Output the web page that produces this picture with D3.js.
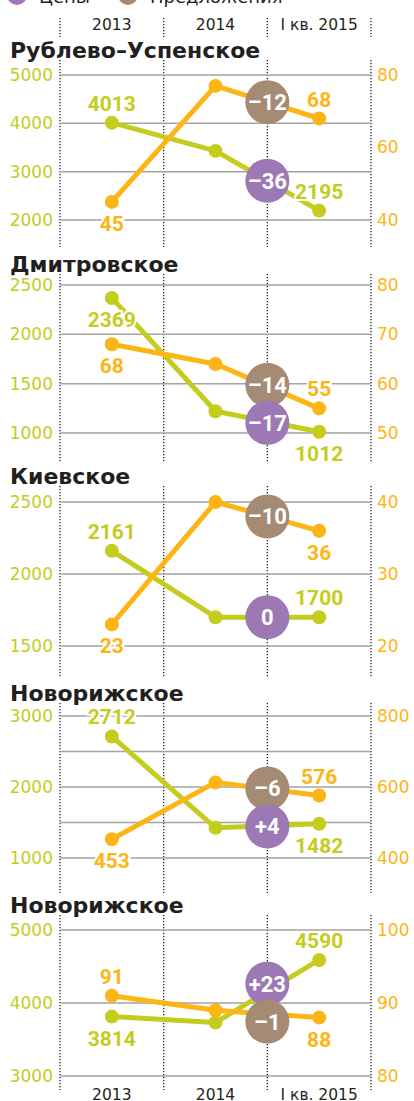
<!DOCTYPE html>
<html>
<head>
<meta charset="utf-8">
<script src="https://cdn.jsdelivr.net/npm/d3@7"></script>
<style>
  body { margin: 0; background: #fff; }
  svg { display: block; }
</style>
</head>
<body>
<div id="chart"></div>
<script>
// data
const periods = ["2013", "2014", "I кв. 2015"];
const regions = ["Рублево–Успенское", "Дмитровское", "Киевское", "Новорижское", "Новорижское"];
const prices = [[4013, 3430, 2195], [2369, 1220, 1012], [2161, 1700, 1700], [2712, 1425, 1482], [3814, 3732, 4590]];
const offers = [[45, 77, 68], [68, 64, 55], [23, 40, 36], [453, 613, 576], [91, 89, 88]];
const priceChange = ["–36", "–17", "0", "+4", "+23"];
const offerChange = ["–12", "–14", "–10", "–6", "–1"];
const priceTicks = [[2000, 3000, 4000, 5000], [1000, 1500, 2000, 2500], [1500, 2000, 2500], [1000, 2000, 3000], [3000, 4000, 5000]];
const priceGrid = [[2000, 3000, 4000, 5000], [1000, 1500, 2000, 2500], [1500, 2000, 2500], [1000, 1500, 2000, 2500, 3000], [3000, 4000, 5000]];
const offerTicks = [[40, 60, 80], [50, 60, 70, 80], [20, 30, 40], [400, 600, 800], [80, 90, 100]];
const legendNames = ["Цены", "Предложения"];

const width = 414, height = 1101;
const green = "#c4cc1e", orange = "#fdb515", purple = "#9c78b4", brown = "#a58a74";
const dark = "#231f20";

// layout of each small chart (pixels)
const layout = [
  { title: 58,  top: 75,  bottom: 220,  dotTop: 60,  dotBottom: 247 },
  { title: 272, top: 285, bottom: 433,  dotTop: 274, dotBottom: 463 },
  { title: 484, top: 502, bottom: 646,  dotTop: 486, dotBottom: 677 },
  { title: 701, top: 716, bottom: 858,  dotTop: 703, dotBottom: 893 },
  { title: 913, top: 930, bottom: 1076, dotTop: 915, dotBottom: 1090 }
];
// where the value labels go: [2013, 2015], -1 above the point, 1 below
const priceSide = [[-1, -1], [1, 1], [-1, -1], [-1, 1], [1, -1]];
const offerSide = [[1, -1], [1, -1], [1, 1], [1, -1], [-1, 1]];

let svg = d3.select("#chart")
    .append("svg")
    .attr("width", width)
    .attr("height", height);

let x = d3.scaleBand()
    .domain(periods)
    .range([60, 371]);
let cx = function(j) { return x(periods[j]) + x.bandwidth() / 2; };
let borders = periods.map(function(p) { return x(p); }).concat([x.range()[1]]);

function dotted(y1, y2) {
    svg.append("g")
        .selectAll("line")
        .data(borders)
        .enter()
        .append("line")
        .attr("x1", function(d) { return d; })
        .attr("x2", function(d) { return d; })
        .attr("y1", y1)
        .attr("y2", y2)
        .attr("stroke", dark)
        .attr("stroke-width", 1.3)
        .attr("stroke-dasharray", "1.3,1.7");
}

// legend (mostly cut off at the top)
let legendX = [17, 128];
legendNames.forEach(function(name, k) {
    svg.append("circle")
        .attr("cx", legendX[k])
        .attr("cy", -5)
        .attr("r", 10)
        .attr("fill", k == 0 ? purple : brown);
    svg.append("text")
        .attr("x", legendX[k] + 22)
        .attr("y", 3)
        .style("font-family", "DejaVu Sans")
        .style("font-size", "18px")
        .attr("fill", dark)
        .text(name);
});

// period labels top and bottom
[30, 1100].forEach(function(yy) {
    svg.append("g")
        .selectAll("text")
        .data(periods)
        .enter()
        .append("text")
        .attr("x", function(d, j) { return cx(j); })
        .attr("y", yy)
        .style("text-anchor", "middle")
        .style("font-family", "DejaVu Sans")
        .style("font-size", "15.5px")
        .attr("fill", dark)
        .text(function(d) { return d; });
});
dotted(18, 37);

layout.forEach(function(p, i) {
    let yL = d3.scaleLinear()
        .domain(d3.extent(priceTicks[i]))
        .range([p.bottom, p.top]);
    let yR = d3.scaleLinear()
        .domain(d3.extent(offerTicks[i]))
        .range([p.bottom, p.top]);

    svg.append("text")
        .attr("x", 10)
        .attr("y", p.title)
        .style("font-family", "DejaVu Sans")
        .style("font-weight", "bold")
        .style("font-size", "22px")
        .attr("fill", dark)
        .text(regions[i]);

    dotted(p.dotTop, p.dotBottom);

    svg.append("g")
        .selectAll("line")
        .data(priceGrid[i])
        .enter()
        .append("line")
        .attr("x1", x.range()[0])
        .attr("x2", x.range()[1])
        .attr("y1", function(d) { return yL(d); })
        .attr("y2", function(d) { return yL(d); })
        .attr("stroke", "#a3a3a3")
        .attr("stroke-width", 1.5);

    let left = svg.append("g")
        .attr("transform", "translate(" + x.range()[0] + ",0)")
        .call(d3.axisLeft(yL).tickValues(priceTicks[i]).tickSize(0).tickPadding(7).tickFormat(d3.format("d")));
    let right = svg.append("g")
        .attr("transform", "translate(" + x.range()[1] + ",0)")
        .call(d3.axisRight(yR).tickValues(offerTicks[i]).tickSize(0).tickPadding(6).tickFormat(d3.format("d")));
    [[left, green], [right, orange]].forEach(function(a) {
        a[0].select(".domain").remove();
        a[0].selectAll("text")
            .style("font-family", "DejaVu Sans")
            .style("font-size", "17px")
            .attr("fill", a[1]);
    });

    let series = [
        { values: prices[i], y: yL, color: green, side: priceSide[i], change: priceChange[i], badge: purple },
        { values: offers[i], y: yR, color: orange, side: offerSide[i], change: offerChange[i], badge: brown }
    ];

    series.forEach(function(s) {
        svg.append("path")
            .datum(s.values)
            .attr("fill", "none")
            .attr("stroke", s.color)
            .attr("stroke-width", 5)
            .attr("stroke-linejoin", "round")
            .attr("d", d3.line()
                .x(function(d, j) { return cx(j); })
                .y(function(d) { return s.y(d); }));
        svg.append("g")
            .selectAll("circle")
            .data(s.values)
            .enter()
            .append("circle")
            .attr("cx", function(d, j) { return cx(j); })
            .attr("cy", function(d) { return s.y(d); })
            .attr("r", 7)
            .attr("fill", s.color);
    });

    series.forEach(function(s) {
        [0, 2].forEach(function(j, k) {
            svg.append("text")
                .attr("x", cx(j))
                .attr("y", s.y(s.values[j]) + (s.side[k] < 0 ? -19 : 22) + 7)
                .style("text-anchor", "middle")
                .style("font-family", "Roboto")
                .style("font-weight", "bold")
                .style("font-size", "21px")
                .attr("fill", s.color)
                .attr("stroke", "#fff")
                .attr("stroke-width", 4)
                .attr("paint-order", "stroke")
                .text(s.values[j]);
        });
    });

    // change badges sit on the 2014 -> 2015 segment, pushed apart when they collide
    series.forEach(function(s) { s.by = (s.y(s.values[1]) + s.y(s.values[2])) / 2; });
    let gap = Math.abs(series[0].by - series[1].by);
    if (gap < 38) {
        let mid = (series[0].by + series[1].by) / 2;
        let up = series[0].by < series[1].by ? 0 : 1;
        series[up].by = mid - 19;
        series[1 - up].by = mid + 19;
    }
    let bx = x(periods[2]);
    series.slice().sort(function(a, b) { return a.by - b.by; }).forEach(function(s) {
        svg.append("circle")
            .attr("cx", bx)
            .attr("cy", s.by)
            .attr("r", 22)
            .attr("fill", s.badge);
        svg.append("text")
            .attr("x", bx)
            .attr("y", s.by + 8)
            .style("text-anchor", "middle")
            .style("font-family", "Roboto")
            .style("font-weight", "bold")
            .style("font-size", "22px")
            .attr("fill", "#fff")
            .text(s.change);
    });
});
</script>
</body>
</html>
